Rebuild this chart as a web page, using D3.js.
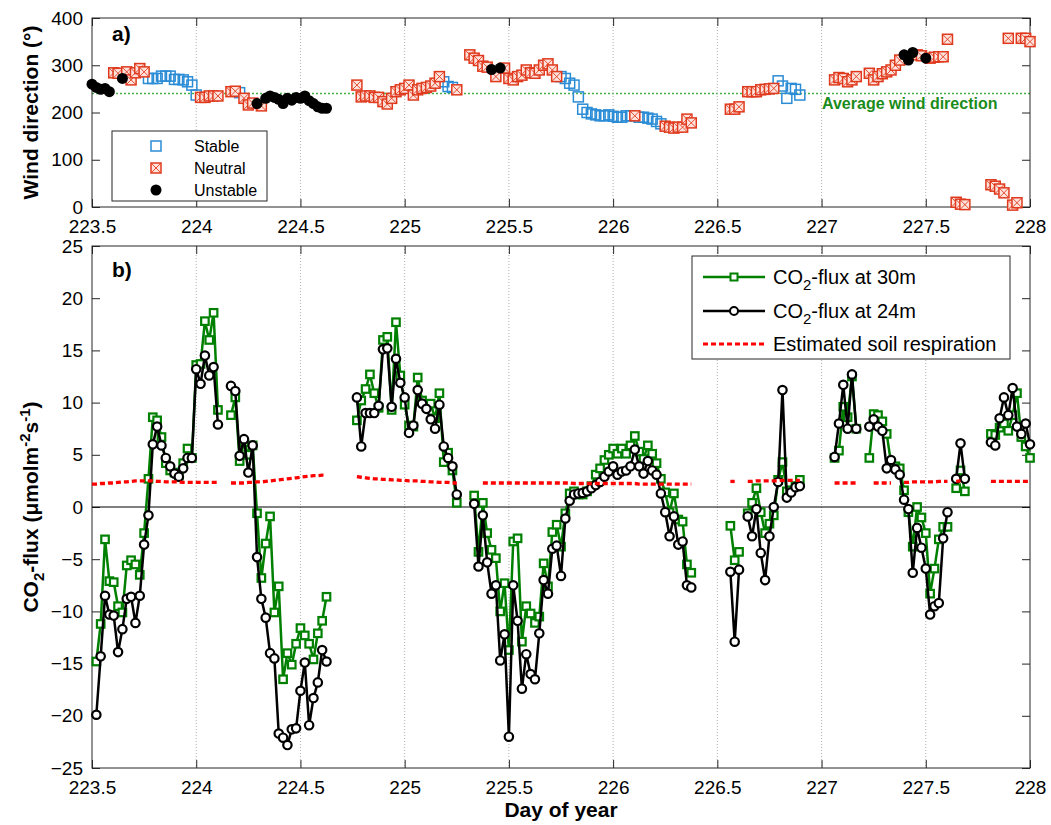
<!DOCTYPE html>
<html>
<head>
<meta charset="utf-8">
<script src="https://cdn.jsdelivr.net/npm/d3@7"></script>
<style>
body { margin: 0; background: #fff; }
svg { font-family: "Liberation Sans", Arial, sans-serif; }
</style>
</head>
<body>
<svg id="chart" width="1051" height="825"></svg>
<script>
// data are half-hourly: slot i -> day 223.5 + i/48
var dayStart = 223.5, slotsPerDay = 48;
var xTicks = [223.5, 224, 224.5, 225, 225.5, 226, 226.5, 227, 227.5, 228];
var windTicks = [0, 100, 200, 300, 400];
var fluxTicks = [-25, -20, -15, -10, -5, 0, 5, 10, 15, 20, 25];
var avgWind = 240;

// [first slot, wind direction (deg), class per point: s=stable n=neutral u=unstable]
var windSegs = [
    [0, [260,253,249,251,244,284,283,272,286,269,284,293,286,272,272,272,277,277,277,270,270,269,265,258,237,232,232,235,235,235],
        "uuuuunnunnnnnssssssssssssnnnnn"],
    [32, [244,245,242,230,216,220,219,214,230,235,232,228,219,230,226,232,230,235,225,219,212,209,209],
        "nnsnnnunuuuuuuuuuuuuuuu"],
    [61, [258,233,235,235,232,232,223,218,230,244,248,251,258,237,248,251,253,256,262,276,265,255,253,248],
        "nnnnnnnnnnnnnnnnnnnnsssn"],
    [87, [322,315,310,298,296,291,276,294,294,272,269,276,279,290,284,283,290,300,303,290,276,276,272,262,258,233,
          207,200,197,195,193,193,195,192,190,190,193,193,193,190,190,188,186,181,176,171,169,167,169,169,186,178],
        "nnnnnunu" + "nnnnnnnnnnnnn" + "sssssssssssssssss" + "n" + "ssssss" + "nnnnnnn"],
    [147, [207,207,212], "nnn"],
    [151, [244,244,244,248,249,250,251,267,256,230,251,249,237], "nnnnnnnssssss"],
    [171, [269,274,272,265,269,276], "nnnnnn"],
    [179, [283,269,276,282,286,290,300,311,322,311,327,322,320,315,315,317,318,318,355], "nnnnnnnnuuunnunnnnn"],
    [199, [10,6,5], "nnn"],
    [207, [47,44,38,30,357,4,9,357,357,350], "nnnnnnnnnn"]
];

// CO2 flux at 30 m (umol m-2 s-1)
var flux30Segs = [
    [1, [-14.8,-11.2,-3.1,-7.1,-7.2,-9.5,-10.1,-5.6,-5.1,-5.5,-6.5,-2.5,2.7,8.6,8.3,6.7,4.2,3.5,3.3,3.0,4.2,5.6,4.7,13.6,13.7,17.8,16.0,18.6,9.3]],
    [32, [8.8,10.5,4.4,6.2,5.0,5.9,-0.6,-6.8,-3.5,-0.9,-10.1,-7.6,-16.5,-14.0,-15.1,-13.1,-11.6,-12.3,-13.1,-14.6,-12.1,-10.9,-8.6]],
    [61, [8.3,10.2,11.3,12.7,10.9,9.5,16.0,16.3,9.3,17.7,12.6,9.8,7.8,7.7,12.4,10.2,9.7,9.9,8.5,10.9,4.3,5.2,3.5,0.4]],
    [88, [1.1,-4.3,0.4,-2.5,-4.1,-4.9,-10.0,-7.3,-13.7,-3.3,-3.0,-12.9,-9.5,-10.2,-11.1,-10.5,-5.4,-7.6,-2.4,-1.7,
          -3.8,-0.6,1.3,1.5,1.2,1.2,1.5,2.0,3.1,3.7,4.5,5.0,5.6,5.1,5.6,5.1,5.9,6.8,5.3,4.6,5.9,5.1,4.2,2.7,1.4,-0.5,1.3,-1.2,-1.4,-5.5,-6.3]],
    [147, [-1.8,-5.1,-4.3]],
    [151, [-0.6,0.4,1.8,-0.5,-2.5,-1.6,-0.8,2.6,4.3,1.5,1.6,2.0,2.6]],
    [171, [4.7,5.4,9.6,8.6,12.5,7.5]],
    [179, [4.7,8.9,8.8,8.2,7.0,4.2,3.9,3.7,1.6,-0.5,-3.8,0.0,-1.0,-2.5,-8.3,-5.9,-3.1,-1.9,-1.9]],
    [199, [1.8,3.5,1.5]],
    [207, [7.0,6.9,7.6,8.0,7.3,8.8,10.9,6.7,5.8,4.7]]
];

// CO2 flux at 24 m
var flux24Segs = [
    [1, [-19.9,-14.3,-8.5,-10.3,-10.4,-13.9,-11.7,-8.8,-8.6,-11.1,-8.5,-3.6,-0.8,6.0,7.7,5.9,4.7,3.9,3.2,2.9,3.7,4.7,4.7,13.2,11.8,14.5,12.6,13.4,7.9]],
    [32, [11.6,11.1,4.9,6.5,3.3,5.9,-4.8,-8.8,-10.6,-14.0,-14.5,-21.7,-22.1,-22.8,-21.3,-21.2,-17.6,-14.9,-20.9,-18.3,-16.8,-13.7,-14.8]],
    [61, [10.5,5.8,9.0,9.0,9.0,9.7,15.1,15.2,9.6,14.2,11.9,10.5,7.1,7.8,11.2,9.9,9.4,8.4,7.5,9.8,5.8,4.7,3.9,1.2]],
    [88, [0.3,-5.7,-0.8,-5.3,-8.3,-7.5,-14.7,-12.2,-22.0,-7.5,-10.9,-17.4,-14.1,-16.0,-16.5,-12.1,-7.0,-8.3,-4.0,-3.7,
          -6.6,-1.1,0.6,1.2,1.3,1.35,1.5,1.8,2.1,2.4,2.9,3.4,3.9,3.1,3.4,3.5,3.9,5.5,3.9,3.2,4.4,3.5,3.1,1.3,-0.5,-2.8,-0.9,-3.6,-3.3,-7.5,-7.7]],
    [147, [-6.2,-12.9,-6.0]],
    [151, [-0.9,-2.8,-0.2,-4.4,-7.0,-2.8,0.0,2.4,11.2,0.9,1.4,1.9,2.0]],
    [171, [4.8,8.0,11.7,7.5,12.7,7.5]],
    [179, [7.7,8.4,7.7,7.3,3.7,4.5,3.6,3.1,0.7,-0.2,-6.3,-2.0,-3.9,-5.9,-10.3,-9.5,-9.2,-3.0,-0.5]],
    [199, [2.7,6.1,2.7]],
    [207, [6.2,5.9,8.5,10.5,8.8,11.4,7.7,7.0,8.0,6.0]]
];

// estimated soil respiration
var soilSegs = [
    [0, [2.2,2.2,2.25,2.25,2.3,2.3,2.35,2.4,2.4,2.45,2.5,2.5,2.5,2.5,2.5,2.45,2.45,2.4,2.4,2.4,2.4,2.35,2.35,2.35,2.35,2.35,2.35,2.35,2.35,2.35]],
    [32, [2.3,2.3,2.3,2.3,2.35,2.35,2.4,2.4,2.45,2.5,2.55,2.6,2.65,2.7,2.75,2.8,2.85,2.9,2.95,3.0,3.0,3.05,3.05]],
    [61, [2.9,2.85,2.8,2.75,2.7,2.7,2.65,2.65,2.6,2.6,2.55,2.55,2.5,2.5,2.5,2.45,2.45,2.4,2.4,2.35,2.35,2.35,2.3,2.3]],
    [90, [2.3,2.3,2.3,2.3,2.3,2.3,2.3,2.3,2.3,2.3,2.3,2.3,2.3,2.3,2.3,2.3,2.3,2.3,2.3,2.3,2.3,
          2.25,2.25,2.25,2.25,2.25,2.25,2.25,2.25,2.25,2.25,2.25,2.25,2.25,2.25,2.25,
          2.2,2.2,2.2,2.2,2.2,2.2,2.2,2.2,2.2,2.2,2.2,2.2,2.2]],
    [147, [2.45,2.45]],
    [151, [2.45,2.45,2.5,2.5,2.5,2.5,2.5,2.5,2.55,2.55,2.55,2.55,2.55]],
    [171, [2.3,2.3,2.3,2.3,2.3,2.3]],
    [180, [2.3,2.3,2.3,2.3,2.3]],
    [187, [2.35,2.35,2.4,2.4,2.4,2.4,2.4,2.4,2.45,2.45,2.45]],
    [199, [2.45,2.5]],
    [207, [2.45,2.45,2.45,2.45,2.45,2.45,2.45,2.45,2.45,2.45]]
];

var green = "#008000", stableCol = "#2b8cd6", neutralCol = "#e03a1e";

var svg = d3.select("#chart");
var x = d3.scaleLinear().domain([223.5, 228]).range([92, 1030]);
var ya = d3.scaleLinear().domain([0, 400]).range([207, 18]);
var yb = d3.scaleLinear().domain([-25, 25]).range([768, 246]);

function toPoints(seg) {
    return seg[1].map(function(v, i) {
        return {day: dayStart + (seg[0] + i) / slotsPerDay, v: v, cls: seg[2] ? seg[2].charAt(i) : ""};
    });
}

// box, inward ticks on all four sides, dotted x grid
function frame(y, yTicks) {
    var g = svg.append("g");
    var r = y.range();
    g.selectAll("line.grid").data(xTicks.slice(1, -1)).enter().append("line")
        .attr("x1", function(d) { return x(d); })
        .attr("x2", function(d) { return x(d); })
        .attr("y1", r[1]).attr("y2", r[0])
        .attr("stroke", "#b0b0b0").attr("stroke-width", 1)
        .attr("stroke-dasharray", "1,2");

    var axB = g.append("g").attr("transform", "translate(0," + r[0] + ")")
        .call(d3.axisBottom(x).tickValues(xTicks).tickSizeInner(-8).tickSizeOuter(0).tickPadding(13)
            .tickFormat(function(d) { return String(d); }));
    var axT = g.append("g").attr("transform", "translate(0," + r[1] + ")")
        .call(d3.axisTop(x).tickValues(xTicks).tickSizeInner(-8).tickSizeOuter(0).tickFormat(""));
    var axL = g.append("g").attr("transform", "translate(" + x.range()[0] + ",0)")
        .call(d3.axisLeft(y).tickValues(yTicks).tickSizeInner(-8).tickSizeOuter(0).tickPadding(9));
    var axR = g.append("g").attr("transform", "translate(" + x.range()[1] + ",0)")
        .call(d3.axisRight(y).tickValues(yTicks).tickSizeInner(-8).tickSizeOuter(0).tickFormat(""));
    [axB, axT, axL, axR].forEach(function(a) {
        a.attr("font-family", null).attr("font-size", 19);
        a.select(".domain").remove();
        a.selectAll(".tick line").attr("stroke", "#262626");
        a.selectAll(".tick text").attr("fill", "#000");
    });
    g.append("rect")
        .attr("x", x.range()[0]).attr("y", r[1])
        .attr("width", x.range()[1] - x.range()[0]).attr("height", r[0] - r[1])
        .attr("fill", "none").attr("stroke", "#262626").attr("stroke-width", 1);
    return g;
}

// ---------- panel a ----------
var ga = svg.append("g");
frame(ya, windTicks);

ga.append("line")
    .attr("x1", x(223.5)).attr("x2", x(228))
    .attr("y1", ya(avgWind)).attr("y2", ya(avgWind))
    .attr("stroke", "#45b045").attr("stroke-width", 1.5).attr("stroke-dasharray", "2,2");

var windPts = [];
windSegs.forEach(function(seg) { windPts = windPts.concat(toPoints(seg)); });

function drawStable(sel) {
    sel.append("rect").attr("x", -5).attr("y", -5).attr("width", 10).attr("height", 10)
        .attr("fill", "none").attr("stroke", stableCol).attr("stroke-width", 1.5);
}
function drawNeutral(sel) {
    sel.append("rect").attr("x", -5).attr("y", -5).attr("width", 10).attr("height", 10)
        .attr("fill", "#fde3dc").attr("stroke", neutralCol).attr("stroke-width", 1.5);
    sel.append("path").attr("d", "M-5,-5L5,5M5,-5L-5,5")
        .attr("stroke", neutralCol).attr("stroke-width", 0.9);
}
function drawUnstable(sel) {
    sel.append("circle").attr("r", 5.5).attr("fill", "#000");
}

var plotA = svg.append("g");
[["s", drawStable], ["n", drawNeutral], ["u", drawUnstable]].forEach(function(k) {
    plotA.selectAll(null).data(windPts.filter(function(d) { return d.cls == k[0]; }))
        .enter().append("g")
        .attr("transform", function(d) { return "translate(" + x(d.day) + "," + ya(d.v) + ")"; })
        .call(k[1]);
});

svg.append("text").attr("x", 822).attr("y", 109)
    .attr("font-size", 16).attr("font-weight", "bold").attr("fill", "#1a8c1a")
    .text("Average wind direction");

svg.append("text").attr("x", 112).attr("y", 41)
    .attr("font-size", 21).attr("font-weight", "bold").text("a)");

// legend a
var legA = svg.append("g");
legA.append("rect").attr("x", 112).attr("y", 131).attr("width", 155).attr("height", 70)
    .attr("fill", "#fff").attr("stroke", "#262626").attr("stroke-width", 1);
var legAItems = [["Stable", drawStable], ["Neutral", drawNeutral], ["Unstable", drawUnstable]];
legAItems.forEach(function(it, i) {
    var yy = 146 + i * 22;
    legA.append("g").attr("transform", "translate(156," + yy + ")").call(it[1]);
    legA.append("text").attr("x", 194).attr("y", yy + 6).attr("font-size", 16).text(it[0]);
});

svg.append("text")
    .attr("transform", "translate(38," + ((ya.range()[0] + ya.range()[1]) / 2) + ") rotate(-90)")
    .attr("text-anchor", "middle").attr("font-size", 21).attr("font-weight", "bold")
    .text("Wind direction (\u00b0)");

// ---------- panel b ----------
frame(yb, fluxTicks);
var gb = svg.append("g");

gb.append("line")
    .attr("x1", x(223.5)).attr("x2", x(228))
    .attr("y1", yb(0)).attr("y2", yb(0))
    .attr("stroke", "#000").attr("stroke-width", 1);

var line = d3.line()
    .x(function(d) { return x(d.day); })
    .y(function(d) { return yb(d.v); });

function fluxSeries(segs, color, marker) {
    var all = [];
    segs.forEach(function(seg) {
        var p = toPoints(seg);
        all = all.concat(p);
        gb.append("path").datum(p).attr("d", line)
            .attr("fill", "none").attr("stroke", color).attr("stroke-width", 2.5)
            .attr("stroke-linejoin", "round");
    });
    var m = gb.selectAll(null).data(all).enter();
    if (marker == "square") {
        m.append("rect")
            .attr("x", function(d) { return x(d.day) - 3.75; })
            .attr("y", function(d) { return yb(d.v) - 3.75; })
            .attr("width", 7.5).attr("height", 7.5)
            .attr("fill", "#fff").attr("stroke", color).attr("stroke-width", 2.2);
    } else {
        m.append("circle")
            .attr("cx", function(d) { return x(d.day); })
            .attr("cy", function(d) { return yb(d.v); })
            .attr("r", 4.2)
            .attr("fill", "#fff").attr("stroke", color).attr("stroke-width", 2.2);
    }
}

fluxSeries(flux30Segs, green, "square");
fluxSeries(flux24Segs, "#000", "circle");

soilSegs.forEach(function(seg) {
    gb.append("path").datum(toPoints(seg)).attr("d", line)
        .attr("fill", "none").attr("stroke", "#ff0000").attr("stroke-width", 3.3)
        .attr("stroke-dasharray", "5,3");
});

svg.append("text").attr("x", 112).attr("y", 277)
    .attr("font-size", 21).attr("font-weight", "bold").text("b)");

// legend b
var legB = svg.append("g");
legB.append("rect").attr("x", 692).attr("y", 256).attr("width", 318).attr("height", 103)
    .attr("fill", "#fff").attr("stroke", "#262626").attr("stroke-width", 1);
legB.append("line").attr("x1", 703).attr("x2", 765).attr("y1", 277).attr("y2", 277)
    .attr("stroke", green).attr("stroke-width", 2.5);
legB.append("rect").attr("x", 730.5).attr("y", 273.5).attr("width", 7).attr("height", 7)
    .attr("fill", "#fff").attr("stroke", green).attr("stroke-width", 2);
legB.append("line").attr("x1", 703).attr("x2", 765).attr("y1", 311).attr("y2", 311)
    .attr("stroke", "#000").attr("stroke-width", 2.5);
legB.append("circle").attr("cx", 734).attr("cy", 311).attr("r", 4)
    .attr("fill", "#fff").attr("stroke", "#000").attr("stroke-width", 2);
legB.append("line").attr("x1", 703).attr("x2", 765).attr("y1", 344).attr("y2", 344)
    .attr("stroke", "#ff0000").attr("stroke-width", 3).attr("stroke-dasharray", "5,3");

function co2Label(sel, rest) {
    sel.append("tspan").text("CO");
    sel.append("tspan").attr("dy", 6).attr("font-size", "0.75em").text("2");
    sel.append("tspan").attr("dy", -6).text(rest);
}
[["-flux at 30m", 284], ["-flux at 24m", 318]].forEach(function(it) {
    legB.append("text").attr("x", 773).attr("y", it[1]).attr("font-size", 20).call(co2Label, it[0]);
});
legB.append("text").attr("x", 773).attr("y", 351).attr("font-size", 20).text("Estimated soil respiration");

// axis titles
var yl = svg.append("text")
    .attr("transform", "translate(38," + ((yb.range()[0] + yb.range()[1]) / 2) + ") rotate(-90)")
    .attr("text-anchor", "middle").attr("font-size", 21).attr("font-weight", "bold");
yl.append("tspan").text("CO");
yl.append("tspan").attr("dy", 6).attr("font-size", 15).text("2");
yl.append("tspan").attr("dy", -6).text("-flux (\u03bcmolm");
yl.append("tspan").attr("dy", -8).attr("font-size", 15).text("-2");
yl.append("tspan").attr("dy", 8).text("s");
yl.append("tspan").attr("dy", -8).attr("font-size", 15).text("-1");
yl.append("tspan").attr("dy", 8).text(")");

svg.append("text").attr("x", (x.range()[0] + x.range()[1]) / 2).attr("y", 817)
    .attr("text-anchor", "middle").attr("font-size", 21).attr("font-weight", "bold")
    .text("Day of year");
</script>
</body>
</html>
